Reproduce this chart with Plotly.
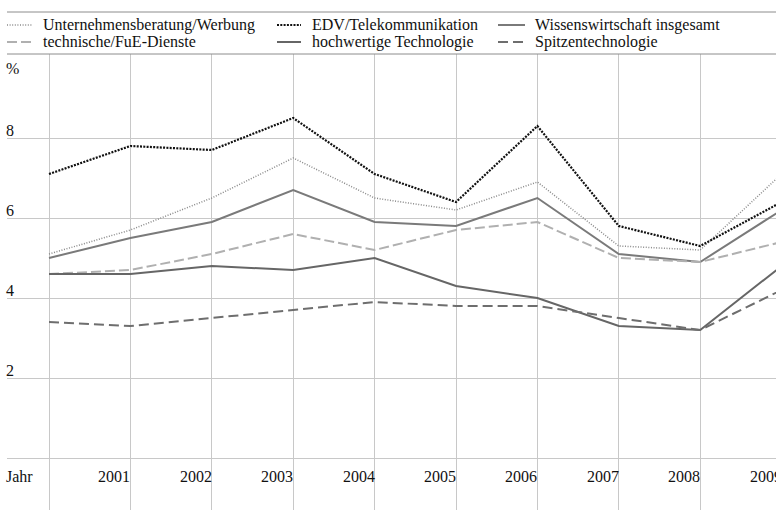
import plotly.graph_objects as go

years = [2000, 2001, 2002, 2003, 2004, 2005, 2006, 2007, 2008, 2009]
unternehmensberatung = [5.1, 5.7, 6.5, 7.5, 6.5, 6.2, 6.9, 5.3, 5.2, 7.1]
edv = [7.1, 7.8, 7.7, 8.5, 7.1, 6.4, 8.3, 5.8, 5.3, 6.4]
wissenswirtschaft = [5.0, 5.5, 5.9, 6.7, 5.9, 5.8, 6.5, 5.1, 4.9, 6.2]
technische = [4.6, 4.7, 5.1, 5.6, 5.2, 5.7, 5.9, 5.0, 4.9, 5.4]
hochwertige = [4.6, 4.6, 4.8, 4.7, 5.0, 4.3, 4.0, 3.3, 3.2, 4.8]
spitzen = [3.4, 3.3, 3.5, 3.7, 3.9, 3.8, 3.8, 3.5, 3.2, 4.2]
y_ticks = [2, 4, 6, 8]
year_labels = ["2001", "2002", "2003", "2004", "2005", "2006", "2007", "2008", "2009"]

W, H = 776, 510
L, R, T, B = 7, 0, 54, 0
PW, PH = W - L - R, H - T - B
px_per_year = 81.4
x0 = 2000 - (49 - L) / px_per_year
x1 = x0 + PW / px_per_year
y_lo, y_hi = -1.3, 10.1

FONT = "Liberation Serif, Times New Roman, serif"

series = [
    ("Unternehmensberatung/Werbung", unternehmensberatung, "#8a8a8a", 1.5, "1px,1.6px"),
    ("EDV/Telekommunikation", edv, "#111111", 2.2, "2px,1.3px"),
    ("Wissenswirtschaft insgesamt", wissenswirtschaft, "#7a7a7a", 2, "solid"),
    ("technische/FuE-Dienste", technische, "#b0b0b0", 2, "10px,4px"),
    ("hochwertige Technologie", hochwertige, "#666666", 2, "solid"),
    ("Spitzentechnologie", spitzen, "#6e6e6e", 2, "10px,5px"),
]

fig = go.Figure()
for name, vals, col, w, dash in series:
    fig.add_trace(go.Scatter(x=years, y=vals, mode="lines", name=name,
                             line=dict(color=col, width=w, dash=dash),
                             showlegend=False, cliponaxis=True))

def px_x(p):
    return (p - L) / PW

def px_y(p):
    return (H - p) / PH

shapes = []
annotations = []

# top rules
for py in (12, 54):
    shapes.append(dict(type="line", xref="paper", yref="paper", x0=0, x1=1,
                       y0=px_y(py), y1=px_y(py), line=dict(color="#8c8c8c", width=1)))

# legend (manual, three columns, two rows)
leg_cols = [(7, 32, 43), (277, 301, 312), (498, 525, 535)]
leg_rows = [25, 42]
for i, (name, vals, col, w, dash) in enumerate(series):
    r, c = divmod(i, 3)
    sx0, sx1, tx = leg_cols[c]
    yy = px_y(leg_rows[r])
    shapes.append(dict(type="line", xref="paper", yref="paper", x0=px_x(sx0), x1=px_x(sx1),
                       y0=yy, y1=yy, line=dict(color=col, width=w, dash=dash)))
    annotations.append(dict(text=name, xref="paper", yref="paper", x=px_x(tx - 2), y=yy,
                            xanchor="left", yanchor="middle", showarrow=False,
                            font=dict(family=FONT, size=16, color="#111")))

# y tick labels
for v in y_ticks:
    annotations.append(dict(text=str(v), xref="paper", yref="y", x=0, y=v,
                            xanchor="left", yanchor="middle", yshift=8, xshift=-3,
                            showarrow=False, font=dict(family=FONT, size=16, color="#111")))
annotations.append(dict(text="%", xref="paper", yref="paper", x=0, y=1, xshift=-3,
                        xanchor="left", yanchor="middle", yshift=-14, showarrow=False,
                        font=dict(family=FONT, size=16, color="#111")))
annotations.append(dict(text="Jahr", xref="paper", yref="y", x=0, y=0, xshift=-3,
                        xanchor="left", yanchor="middle", yshift=-18, showarrow=False,
                        font=dict(family=FONT, size=16, color="#111")))
for lab in year_labels:
    yr = int(lab)
    annotations.append(dict(text=lab, xref="paper", yref="y", x=(yr - x0) / (x1 - x0), y=0,
                            xanchor="right", yanchor="middle", yshift=-18, xshift=2,
                            showarrow=False, font=dict(family=FONT, size=16, color="#111")))

fig.update_layout(
    width=W, height=H,
    margin=dict(l=L, r=R, t=T, b=B, pad=0),
    paper_bgcolor="white", plot_bgcolor="white",
    xaxis=dict(range=[x0, x1], tickvals=years[:-1], showgrid=True, gridcolor="#c8c8c8",
               gridwidth=1, showticklabels=False, zeroline=False, showline=False, ticks=""),
    yaxis=dict(range=[y_lo, y_hi], tickvals=[0] + y_ticks, showgrid=True, gridcolor="#c8c8c8",
               gridwidth=1, showticklabels=False, zeroline=False, showline=False, ticks=""),
    shapes=shapes,
    annotations=annotations,
    showlegend=False,
)

fig.write_html("out.html", config={"displayModeBar": False},
               post_script="document.body.style.margin='0';")
